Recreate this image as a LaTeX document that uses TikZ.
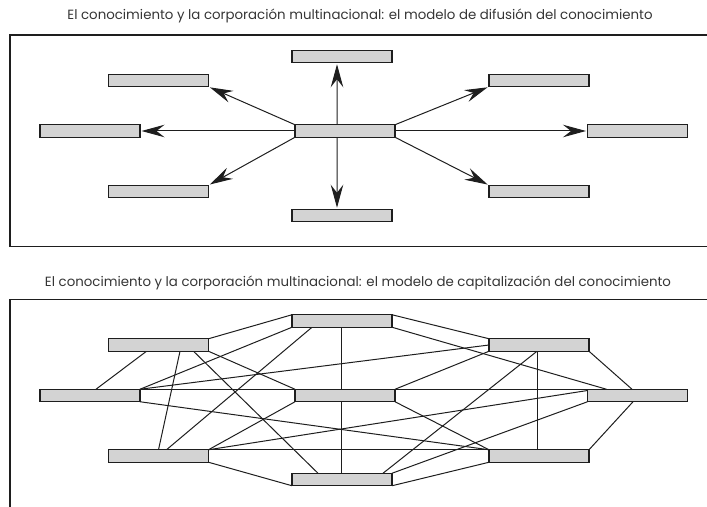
\documentclass[tikz,border=0pt]{standalone}
\usepackage{fontspec}
\setmainfont{Poppins}
\usetikzlibrary{arrows.meta,backgrounds}

\definecolor{boxgray}{HTML}{D3D3D3}
\definecolor{linegray}{HTML}{1E1E1E}

\begin{document}
\begin{tikzpicture}[
  x=1bp, y=-1bp,
  >={Stealth[length=23bp, width=12.5bp, inset=8bp]},
  bar/.style={draw=linegray, fill=boxgray, line width=1.2bp, minimum width=100bp, minimum height=12.5bp, inner sep=0pt, outer sep=0pt},
  arr/.style={->, line width=1bp, draw=linegray, shorten >=1.5bp},
  link/.style={line width=1bp, draw=linegray},
  frame/.style={line width=1.2bp, draw=linegray},
  heading/.style={font=\fontsize{13.4}{15}\selectfont, text=linegray!90, inner sep=0pt}
]
\useasboundingbox (0,0) rectangle (707,507);

% titles
\node[heading] (title1) at (360,16) {El conocimiento y la corporación multinacional: el modelo de difusión del conocimiento};
\node[heading] (title2) at (358,283) {El conocimiento y la corporación multinacional: el modelo de capitalización del conocimiento};

% open frames
\draw[frame] (707,35) -- (10,35) -- (10,246.5) -- (707,246.5);
\draw[frame] (707,299.5) -- (10,299.5) -- (10,507);

% difusion model
\node[bar] (top) at (342,56.5) {};
\node[bar] (ul) at (158.5,80.5) {};
\node[bar] (l) at (90,131) {};
\node[bar] (c) at (345,131) {};
\node[bar] (ll) at (158.5,191.5) {};
\node[bar] (bot) at (342,215.5) {};
\node[bar] (ur) at (539,80.5) {};
\node[bar] (r) at (637.5,131) {};
\node[bar] (lr) at (539,191.5) {};
\draw[arr] (c.north west) -- (ul.south east);
\draw[arr] (c.west) -- (l.east);
\draw[arr] (c.south west) -- (ll.north east);
\draw[arr] ([xshift=-8bp]c.north) -- ([xshift=-5bp]top.south);
\draw[arr] ([xshift=-8bp]c.south) -- ([xshift=-5bp]bot.north);
\draw[arr] (c.north east) -- (ur.south west);
\draw[arr] (c.east) -- (r.west);
\draw[arr] (c.south east) -- (lr.north west);

% capitalizacion model
\node[bar] (T) at (342,321) {};
\node[bar] (UL) at (158.5,345) {};
\node[bar] (L) at (90,395.5) {};
\node[bar] (C) at (345,395.5) {};
\node[bar] (LL) at (158.5,456) {};
\node[bar] (B) at (342,479.5) {};
\node[bar] (UR) at (539,345) {};
\node[bar] (R) at (637.5,395.5) {};
\node[bar] (LR) at (539,456) {};
\begin{scope}[on background layer]
\draw[link] (UL.north east) -- (T.north west);
\draw[link] ([xshift=-12bp]UL.south) -- ([xshift=6bp]L.north);
\draw[link] ([xshift=21.5bp]UL.south) -- (LL.north);
\draw[link] ([xshift=35bp]UL.south) -- ([xshift=-24bp]B.north);
\draw[link] (UL.south east) -- (C.north west);
\draw[link] (T.south west) -- (L.north east);
\draw[link] ([xshift=-30bp]T.south) -- ([xshift=8bp]LL.north);
\draw[link] ([xshift=-1bp]T.south) -- ([xshift=-1bp]B.north);
\draw[link] (T.north east) -- (UR.north west);
\draw[link] (T.south east) -- ([xshift=-31bp]R.north);
\draw[link] (L.north east) -- (UR.west);
\draw[link] (L.north east) -- (R.north west);
\draw[link] (L.south east) -- (LR.north west);
\draw[link] (LL.north east) -- (C.south west);
\draw[link] (LL.north east) -- ([yshift=5bp]R.west);
\draw[link] (LL.north east) -- (LR.north west);
\draw[link] (LL.south east) -- (B.south west);
\draw[link] (C.north east) -- (UR.south west);
\draw[link] (C.south east) -- (LR.north west);
\draw[link] ([xshift=-2bp]UR.south) -- ([xshift=41bp]B.north);
\draw[link] ([xshift=-2bp]UR.south) -- ([xshift=-2bp]LR.north);
\draw[link] (UR.south east) -- ([xshift=-5.5bp]R.north);
\draw[link] ([xshift=-4.5bp]R.south) -- (LR.north east);
\draw[link] (R.south west) -- (B.north east);
\draw[link] (B.south east) -- (LR.south west);
\end{scope}
\end{tikzpicture}
\end{document}
